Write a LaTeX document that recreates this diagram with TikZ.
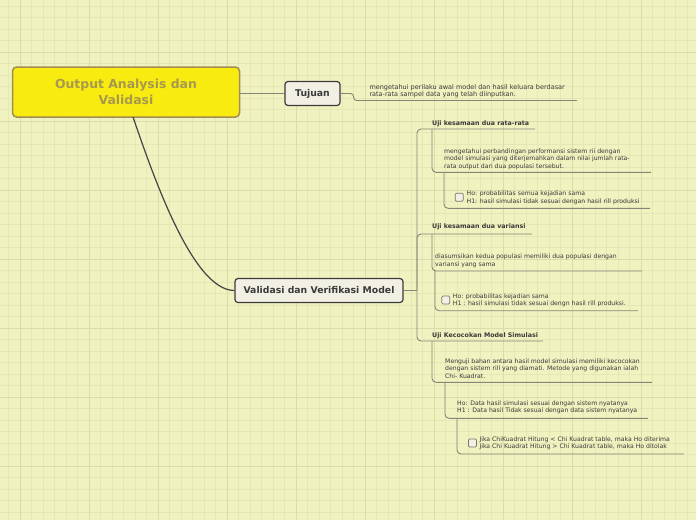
\documentclass[tikz,border=0pt]{standalone}
\usepackage{fontspec}
\setmainfont{DejaVu Sans}
\definecolor{bg}{HTML}{F0F2C0}
\definecolor{gminor}{HTML}{E5E8B6}
\definecolor{gmajor}{HTML}{DADDA9}
\definecolor{mainfill}{HTML}{F7EB0F}
\definecolor{mainborder}{HTML}{A48C52}
\definecolor{maintext}{HTML}{A6984F}
\definecolor{topicfill}{HTML}{F2F0E4}
\definecolor{topicborder}{HTML}{3B3B3B}
\definecolor{txt}{HTML}{3A3A3A}
\definecolor{connc}{HTML}{858578}
\definecolor{curvec}{HTML}{454545}
\tikzset{
  minorgrid/.style={draw=gminor, line width=0.8pt},
  majorgrid/.style={draw=gmajor, line width=1pt},
  mainnode/.style={draw=mainborder, fill=mainfill, line width=1.5pt, rounded corners=4pt,
    text=maintext, font=\fontsize{12.4}{15.5}\selectfont\bfseries, align=center, inner sep=0pt},
  topicnode/.style={draw=topicborder, fill=topicfill, line width=1.2pt, rounded corners=3pt,
    text=txt, font=\fontsize{9.3}{11}\selectfont\bfseries, align=center, inner sep=0pt},
  desc/.style={anchor=north west, inner sep=0pt, align=left, text=txt,
    font=\fontsize{6.15}{7.5}\selectfont},
  titletext/.style={anchor=north west, inner sep=0pt, align=left, text=txt,
    font=\fontsize{6.3}{7.5}\selectfont\bfseries},
  cbox/.style={draw=connc!90!black, fill=topicfill, line width=0.7pt, rounded corners=1.2pt,
    minimum size=8pt, inner sep=0pt},
  conn/.style={draw=connc, line width=0.9pt},
  mainconn/.style={draw=curvec, line width=1.2pt},
}
\begin{document}
\begin{tikzpicture}[x=1pt,y=-1pt]
\fill[bg] (0,0) rectangle (696,520);
\useasboundingbox (0,0) rectangle (696,520);
% grid
\foreach \i in {0,...,60} {
  \draw[minorgrid] ({8.5+11.5*\i},0) -- ({8.5+11.5*\i},520);
}
\foreach \i in {0,...,45} {
  \draw[minorgrid] (0,{6+11.5*\i}) -- (696,{6+11.5*\i});
}
\foreach \i in {0,...,10} {
  \draw[majorgrid] ({20+69*\i},0) -- ({20+69*\i},520);
}
\foreach \i in {0,...,7} {
  \draw[majorgrid] (0,{52+69*\i}) -- (696,{52+69*\i});
}

% main nodes
\node[mainnode, minimum width=227pt, minimum height=50pt] (main) at (126,92) {Output Analysis dan\\Validasi};
\node[topicnode, minimum width=55pt, minimum height=24pt] (tujuan) at (312.5,93.5) {Tujuan};
\node[topicnode, minimum width=168pt, minimum height=24pt] (valid) at (319,290.5) {Validasi dan Verifikasi Model};

% texts
\node[desc, font=\fontsize{6.5}{7.4}\selectfont] (tujtxt) at (369.3,84) {mengetahui perilaku awal model dan hasil keluara berdasar\\rata-rata sampel data yang telah diinputkan.};

\node[titletext] (t1) at (432,120.1) {Uji kesamaan dua rata-rata};
\node[desc] (d1) at (444,148.5) {mengetahui perbandingan performansi sistem rii dengan\\model simulasi yang diterjemahkan dalam nilai jumlah rata-\\rata output dari dua populasi tersebut.};
\node[cbox] (cb1) at (459.2,197.2) {};
\node[desc] (c1) at (466.5,190.8) {Ho: probabilitas semua kejadian sama\\H1: hasil simulasi tidak sesuai dengan hasil rill produksi};

\node[titletext] (t2) at (432,223.4) {Uji kesamaan dua variansi};
\node[desc] (d2) at (435,254.1) {diasumsikan kedua populasi memiliki dua populasi dengan\\variansi yang sama};
\node[cbox] (cb2) at (445.8,300) {};
\node[desc] (c2) at (452.7,293.5) {Ho: probabilitas kejadian sama\\H1 : hasil simulasi tidak sesuai dengn hasil rill produksi.};

\node[titletext] (t3) at (432,332.4) {Uji Kecocokan Model Simulasi};
\node[desc] (d3) at (445,358.5) {Menguji bahan antara hasil model simulasi memiliki kecocokan\\dengan sistem rill yang diamati. Metode yang digunakan ialah\\Chi- Kuadrat.};
\node[desc] (h3) at (457,400.2) {Ho: Data hasil simulasi sesuai dengan sistem nyatanya\\H1 : Data hasil Tidak sesuai dengan data sistem nyatanya};
\node[cbox] (cb3) at (472.5,443) {};
\node[desc] (c3) at (479.3,436.5) {Jika ChiKuadrat Hitung < Chi Kuadrat table, maka Ho diterima\\Jika Chi Kuadrat Hitung > Chi Kuadrat table, maka Ho ditolak};

% coordinates for underline ends
\coordinate (tujend) at (577,100.5);
\coordinate (bj) at (417,290.5);
\coordinate (t1end) at (535,129);
\coordinate (t2end) at (532,234);
\coordinate (t3end) at (543,341);
\coordinate (d1end) at (651,172.3);
\coordinate (c1end) at (650,208.3);
\coordinate (d2end) at (642,271);
\coordinate (c2end) at (638,310.7);
\coordinate (d3end) at (652,382.3);
\coordinate (h3end) at (648,418.3);
\coordinate (c3end) at (684,454);
\coordinate (mstart) at (133,117);

% connectors
\draw[mainconn] (mstart) .. controls (152,172) and (192,290.5) .. (valid.west);
\draw[conn] (tujuan.west) -- (tujuan.west -| main.east);
\draw[conn, rounded corners=3pt] (tujuan.east) -- ++(13,0) |- (tujend);

\draw[conn] (valid.east) -- (bj);
\draw[conn, rounded corners=4pt] (t1end) -- (t1end -| bj) -- (t3end -| bj) -- (t3end);
\draw[conn, rounded corners=4pt] (bj) |- (t2end);

\draw[conn, rounded corners=4pt] (t1.west |- t1end) |- (d1end);
\draw[conn, rounded corners=4pt] (d1.west |- d1end) |- (c1end);
\draw[conn, rounded corners=4pt] (t2.west |- t2end) |- (d2end);
\draw[conn, rounded corners=4pt] (d2.west |- d2end) |- (c2end);
\draw[conn, rounded corners=4pt] (t3.west |- t3end) |- (d3end);
\draw[conn, rounded corners=4pt] (d3.west |- d3end) |- (h3end);
\draw[conn, rounded corners=4pt] (h3.west |- h3end) |- (c3end);
\end{tikzpicture}
\end{document}
